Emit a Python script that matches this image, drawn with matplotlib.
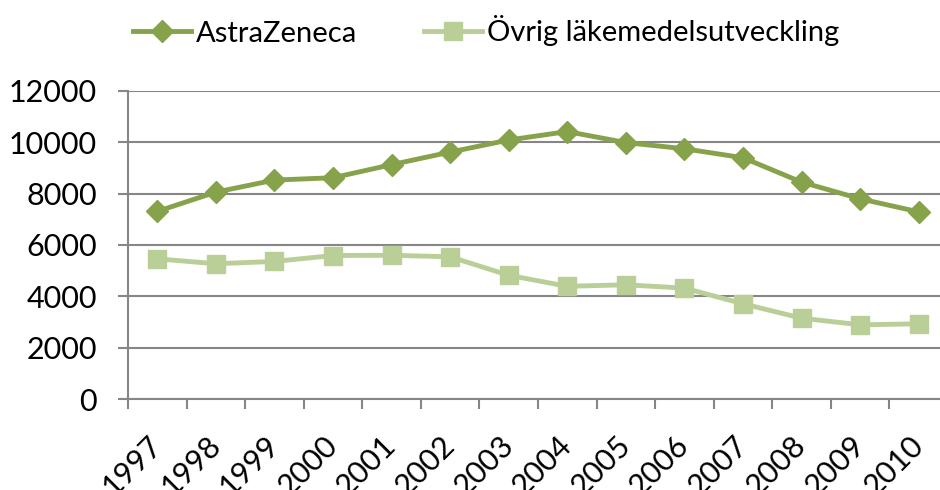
import matplotlib
matplotlib.use('Agg')
import matplotlib.pyplot as plt
import numpy as np

# data
years = ['1997', '1998', '1999', '2000', '2001', '2002', '2003',
         '2004', '2005', '2006', '2007', '2008', '2009', '2010']
astrazeneca = [7310, 8060, 8530, 8620, 9130, 9620, 10090,
               10420, 9990, 9750, 9400, 8450, 7800, 7290]
ovrig = [5460, 5270, 5360, 5590, 5600, 5540, 4820,
         4390, 4450, 4320, 3710, 3150, 2890, 2930]
yticks = [0, 2000, 4000, 6000, 8000, 10000, 12000]

plt.rcParams['font.family'] = ['Lato', 'DejaVu Sans']

fig = plt.figure(figsize=(9.4, 4.9), dpi=100)
ax = fig.add_axes([128 / 940, 1 - 399 / 490, (948 - 128) / 940, (399 - 91) / 490])

x = np.arange(len(years))
dark = '#86A34B'
light = '#BACF97'

ax.plot(x, astrazeneca, color=dark, lw=3.5, marker='D', ms=11.5,
        mec=dark, mfc=dark, label='AstraZeneca', zorder=4, clip_on=False)
ax.plot(x, ovrig, color=light, lw=3.5, marker='s', ms=12.5,
        mec=light, mfc=light, label='Övrig läkemedelsutveckling', zorder=3, clip_on=False)

ax.set_xlim(-0.5, len(years) - 0.5)
ax.set_ylim(0, 12000)
ax.set_yticks(yticks)
ax.set_yticklabels([str(v) for v in yticks])

ax.set_xticks(x)
ax.set_xticklabels(years, rotation=45, ha='right', va='center', rotation_mode='anchor')
ax.set_xticks(np.arange(-0.5, len(years), 1), minor=True)
ax.tick_params(axis='x', which='major', length=0, pad=30, labelsize=22)
ax.tick_params(axis='x', which='minor', length=7.5, width=1.5, color='#868686', direction='out')
ax.tick_params(axis='y', length=7.5, width=1.5, color='#868686', pad=15, labelsize=22)

ax.grid(axis='y', color='#868686', lw=1.5)
ax.set_axisbelow(True)
for side in ['top', 'right']:
    ax.spines[side].set_visible(False)
for side in ['left', 'bottom']:
    ax.spines[side].set_color('#868686')
    ax.spines[side].set_linewidth(1.5)

fig.legend(loc='center', bbox_to_anchor=(0.517, 1 - 31 / 490), ncol=2, frameon=False,
           fontsize=21, handlelength=2.0, handletextpad=0.15, columnspacing=2.3)

fig.savefig('out.png', dpi=100)
